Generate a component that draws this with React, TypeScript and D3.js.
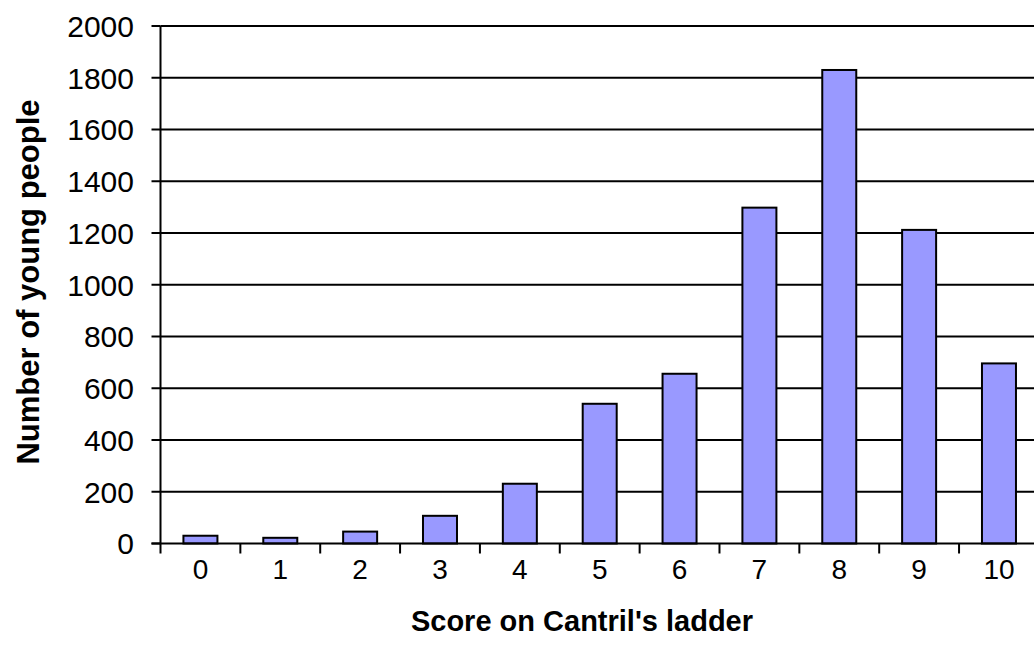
import React from "react";
import * as d3 from "d3";

const categories = ["0", "1", "2", "3", "4", "5", "6", "7", "8", "9", "10"];
const counts = [30, 22, 46, 107, 231, 540, 656, 1298, 1830, 1212, 696];
const yTicks = [0, 200, 400, 600, 800, 1000, 1200, 1400, 1600, 1800, 2000];

export default function App() {
  const W = 1034, H = 657;
  const left = 160.5, right = 1038.9, top = 26, bottom = 543.5;
  const x = d3.scaleBand<string>().domain(categories).range([left, right]).paddingInner(0).paddingOuter(0);
  const y = d3.scaleLinear().domain([0, 2000]).range([bottom, top]);
  const bw = 34;
  const font = "'Liberation Sans', Arial, sans-serif";
  return (
    <svg width={W} height={H} style={{ position: "absolute", left: 0, top: 0 }}>
      <rect width={W} height={H} fill="#fff" />
      {yTicks.filter((t) => t > 0).map((t) => (
        <line key={"g" + t} x1={left} x2={right} y1={y(t)} y2={y(t)} stroke="#000" strokeWidth={2} />
      ))}
      {categories.map((c, i) => {
        const cx = x(c)! + x.bandwidth() / 2;
        return (
          <rect key={"b" + c} x={cx - bw / 2} y={y(counts[i])} width={bw} height={bottom - y(counts[i])}
            fill="#9999FF" stroke="#000" strokeWidth={2} />
        );
      })}
      <line x1={left} x2={left} y1={top} y2={bottom + 10} stroke="#000" strokeWidth={2} />
      <line x1={left - 9} x2={right} y1={bottom} y2={bottom} stroke="#000" strokeWidth={2} />
      {yTicks.map((t) => (
        <g key={"yt" + t}>
          <line x1={left - 9} x2={left} y1={y(t)} y2={y(t)} stroke="#000" strokeWidth={2} />
          <text x={134} y={y(t)} dy="0.36em" textAnchor="end" fontFamily={font} fontSize={30} fill="#000">{t}</text>
        </g>
      ))}
      {categories.map((c, i) => (
        <g key={"xt" + c}>
          <line x1={x(c)! + x.bandwidth()} x2={x(c)! + x.bandwidth()} y1={bottom} y2={bottom + 10} stroke="#000" strokeWidth={2} />
          <text x={x(c)! + x.bandwidth() / 2} y={579} textAnchor="middle" fontFamily={font} fontSize={28} fill="#000">{c}</text>
        </g>
      ))}
      <text x={582} y={631} textAnchor="middle" fontFamily={font} fontSize={29} fontWeight="bold" fill="#000">Score on Cantril's ladder</text>
      <text transform={`translate(39,${282}) rotate(-90)`} textAnchor="middle" fontFamily={font} fontSize={31} fontWeight="bold" fill="#000">Number of young people</text>
    </svg>
  );
}
